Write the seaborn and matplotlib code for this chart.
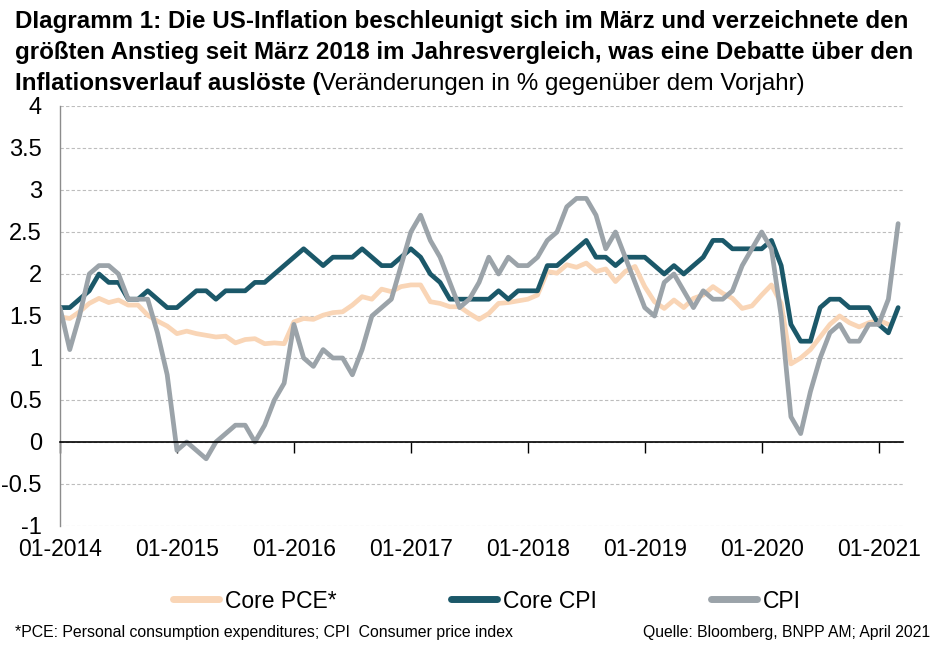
import pandas as pd
import numpy as np
import seaborn as sns
import matplotlib.pyplot as plt
from matplotlib.lines import Line2D

# Veränderungen in % ggü. Vorjahr, monatlich ab 01-2014
cpi = [1.6, 1.1, 1.5, 2.0, 2.1, 2.1, 2.0, 1.7, 1.7, 1.7, 1.3, 0.8,
       -0.1, 0.0, -0.1, -0.2, 0.0, 0.1, 0.2, 0.2, 0.0, 0.2, 0.5, 0.7,
       1.4, 1.0, 0.9, 1.1, 1.0, 1.0, 0.8, 1.1, 1.5, 1.6, 1.7, 2.1,
       2.5, 2.7, 2.4, 2.2, 1.9, 1.6, 1.7, 1.9, 2.2, 2.0, 2.2, 2.1,
       2.1, 2.2, 2.4, 2.5, 2.8, 2.9, 2.9, 2.7, 2.3, 2.5, 2.2, 1.9,
       1.6, 1.5, 1.9, 2.0, 1.8, 1.6, 1.8, 1.7, 1.7, 1.8, 2.1, 2.3,
       2.5, 2.3, 1.5, 0.3, 0.1, 0.6, 1.0, 1.3, 1.4, 1.2, 1.2, 1.4,
       1.4, 1.7, 2.6]

core_cpi = [1.6, 1.6, 1.7, 1.8, 2.0, 1.9, 1.9, 1.7, 1.7, 1.8, 1.7, 1.6,
            1.6, 1.7, 1.8, 1.8, 1.7, 1.8, 1.8, 1.8, 1.9, 1.9, 2.0, 2.1,
            2.2, 2.3, 2.2, 2.1, 2.2, 2.2, 2.2, 2.3, 2.2, 2.1, 2.1, 2.2,
            2.3, 2.2, 2.0, 1.9, 1.7, 1.7, 1.7, 1.7, 1.7, 1.8, 1.7, 1.8,
            1.8, 1.8, 2.1, 2.1, 2.2, 2.3, 2.4, 2.2, 2.2, 2.1, 2.2, 2.2,
            2.2, 2.1, 2.0, 2.1, 2.0, 2.1, 2.2, 2.4, 2.4, 2.3, 2.3, 2.3,
            2.3, 2.4, 2.1, 1.4, 1.2, 1.2, 1.6, 1.7, 1.7, 1.6, 1.6, 1.6,
            1.4, 1.3, 1.6]

# Core PCE nur bis 02-2021
core_pce = [1.49, 1.47, 1.55, 1.65, 1.71, 1.66, 1.69, 1.63, 1.63, 1.51, 1.44, 1.38,
            1.29, 1.32, 1.29, 1.27, 1.25, 1.26, 1.18, 1.22, 1.23, 1.17, 1.18, 1.17,
            1.43, 1.47, 1.46, 1.51, 1.54, 1.55, 1.63, 1.73, 1.70, 1.82, 1.79, 1.85,
            1.87, 1.87, 1.67, 1.65, 1.61, 1.61, 1.53, 1.46, 1.53, 1.65, 1.66, 1.68,
            1.70, 1.75, 2.03, 2.01, 2.11, 2.08, 2.13, 2.03, 2.06, 1.91, 2.03, 2.09,
            1.85, 1.67, 1.59, 1.69, 1.60, 1.71, 1.75, 1.85, 1.77, 1.71, 1.59, 1.62,
            1.75, 1.87, 1.65, 0.93, 1.00, 1.10, 1.25, 1.40, 1.50, 1.42, 1.37, 1.42,
            1.45, 1.40]

series_names = ['Core PCE*', 'Core CPI', 'CPI']
year_labels = ['01-2014', '01-2015', '01-2016', '01-2017',
               '01-2018', '01-2019', '01-2020', '01-2021']
y_ticks = [-1, -0.5, 0, 0.5, 1, 1.5, 2, 2.5, 3, 3.5, 4]

colors = {'Core PCE*': '#F9D5B6', 'Core CPI': '#1B5869', 'CPI': '#9BA3A9'}

frames = []
for name, vals in zip(series_names, [core_pce, core_cpi, cpi]):
    frames.append(pd.DataFrame({'month': np.arange(len(vals)), 'value': vals, 'series': name}))
df = pd.concat(frames, ignore_index=True)

sns.set_theme(style='white')
plt.rcParams['font.family'] = ['Liberation Sans', 'DejaVu Sans']
plt.rcParams['text.color'] = 'black'

fig = plt.figure(figsize=(9.4, 6.53), dpi=100)
W, H = 940, 653
ax = fig.add_axes([60 / W, 1 - 526 / H, (903 - 60) / W, 420 / H])

sns.lineplot(data=df, x='month', y='value', hue='series', hue_order=series_names,
             palette=colors, linewidth=3.4, ax=ax, legend=False)

ax.set_xlim(0, 86.5)
ax.set_ylim(-1, 4)
ax.set_xlabel('')
ax.set_ylabel('')

# Gitter
ax.set_yticks(y_ticks)
ax.set_yticklabels([f'{v:g}' for v in y_ticks])
ax.yaxis.grid(True, linestyle=(0, (3, 2)), color='#BDBDBD', linewidth=0.8)
ax.xaxis.grid(False)
ax.set_axisbelow(True)

for s in ['top', 'right']:
    ax.spines[s].set_visible(False)
ax.spines['left'].set_color('#8C8C8C')
ax.spines['left'].set_linewidth(1.0)
ax.spines['bottom'].set_position(('data', 0))
ax.spines['bottom'].set_color('black')
ax.spines['bottom'].set_linewidth(1.2)

tick_pos = [12 * i for i in range(len(year_labels))]
ax.set_xticks(tick_pos)
ax.tick_params(axis='x', direction='out', length=8, width=1, color='black',
               bottom=True, labelbottom=False)
ax.tick_params(axis='y', length=0, pad=13, labelsize=17, labelcolor='black')

# Jahresbeschriftung unten
sec = ax.secondary_xaxis('bottom')
sec.set_xticks(tick_pos, labels=year_labels)
sec.spines['bottom'].set_visible(False)
sec.tick_params(length=0, pad=9, labelsize=16.5, labelcolor='black')

# Legende
handles = [Line2D([], [], color=colors[n], linewidth=5) for n in series_names]
fig.legend(handles, series_names, loc='center', bbox_to_anchor=(487 / W, 1 - 601 / H),
           ncol=3, frameon=False, fontsize=16.5, handlelength=2.0, handletextpad=0.25,
           columnspacing=5.0)

# Titel
tkw = dict(fontsize=17.4, weight='bold', va='baseline', color='black')
fig.text(15 / W, 1 - 28 / H,
         'DIagramm 1: Die US-Inflation beschleunigt sich im März und verzeichnete den', **tkw)
fig.text(15 / W, 1 - 59 / H,
         'größten Anstieg seit März 2018 im Jahresvergleich, was eine Debatte über den', **tkw)
t3 = fig.text(15 / W, 1 - 90 / H, 'Inflationsverlauf auslöste (', **tkw)
fig.canvas.draw()
bb = t3.get_window_extent(fig.canvas.get_renderer())
fig.text(bb.x1 / W, 1 - 90 / H, 'Veränderungen in % gegenüber dem Vorjahr)',
         fontsize=17.4, va='baseline', color='black')

# Fußnoten
fig.text(15 / W, 1 - 632 / H,
         '*PCE: Personal consumption expenditures; CPI  Consumer price index',
         fontsize=11.4, va='center')
fig.text(930 / W, 1 - 632 / H, 'Quelle: Bloomberg, BNPP AM; April 2021',
         fontsize=11.3, va='center', ha='right')

fig.savefig('out.png', dpi=100)
